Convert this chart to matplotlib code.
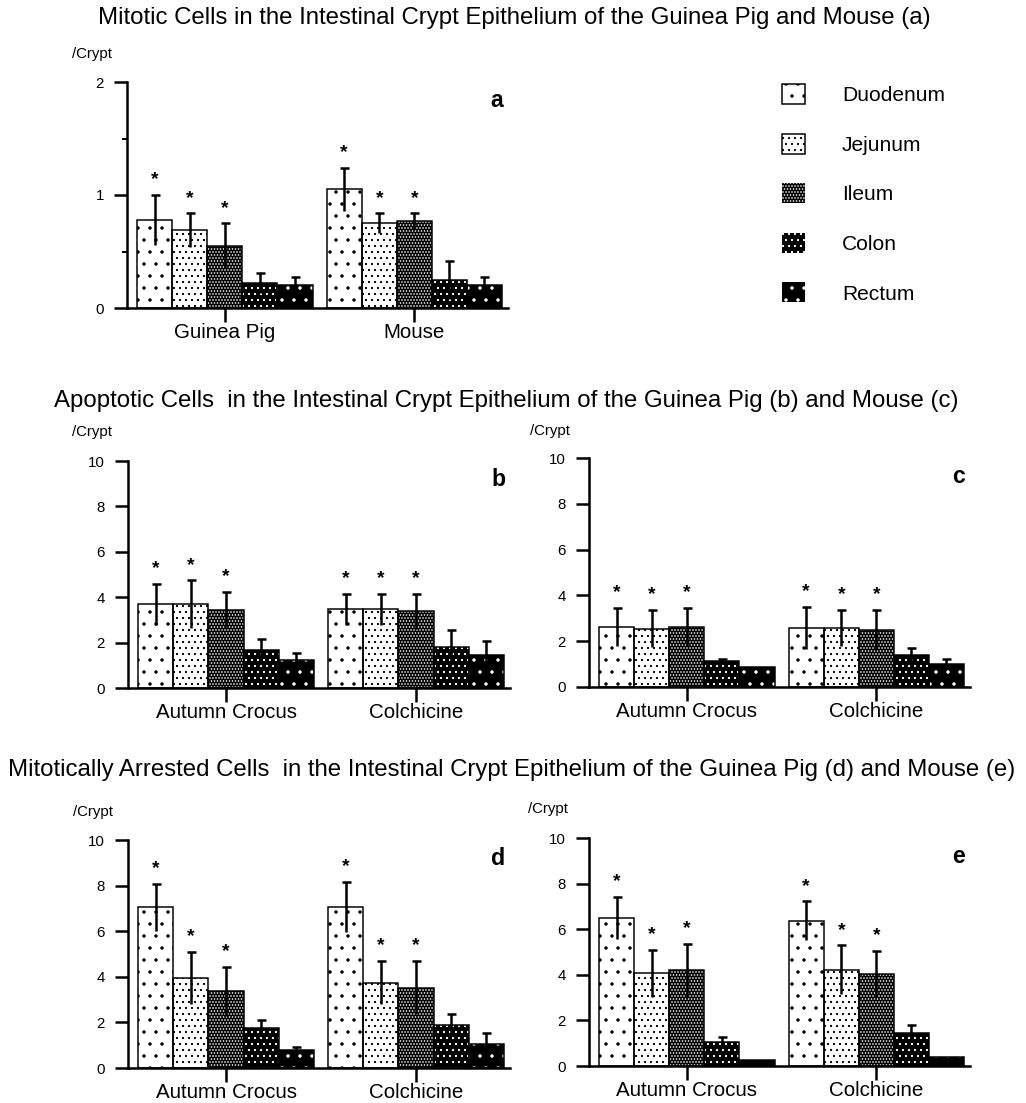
import matplotlib
matplotlib.use("Agg")
import matplotlib.pyplot as plt
from matplotlib.patches import Patch

# pixel layout, dpi 72 so 1 pt == 1 px
W, H = 1026, 1103

plt.rcParams["font.family"] = ["Liberation Sans", "DejaVu Sans"]
plt.rcParams["hatch.linewidth"] = 1.0

regions = ["Duodenum", "Jejunum", "Ileum", "Colon", "Rectum"]
species = ["Guinea Pig", "Mouse"]
treatments = ["Autumn Crocus", "Colchicine"]

# (a) mitotic cells per crypt
a_mean = [[0.78, 0.69, 0.55, 0.22, 0.20], [1.05, 0.75, 0.77, 0.25, 0.20]]
a_err = [[0.22, 0.15, 0.20, 0.09, 0.07], [0.19, 0.09, 0.07, 0.17, 0.07]]

# (b) apoptotic, guinea pig
b_mean = [[3.69, 3.69, 3.45, 1.69, 1.25], [3.47, 3.47, 3.38, 1.81, 1.47]]
b_err = [[0.91, 1.05, 0.78, 0.45, 0.29], [0.69, 0.69, 0.78, 0.73, 0.60]]

# (c) apoptotic, mouse
c_mean = [[2.63, 2.55, 2.63, 1.14, 0.88], [2.57, 2.57, 2.48, 1.39, 1.02]]
c_err = [[0.84, 0.81, 0.84, 0.09, 0.0], [0.93, 0.79, 0.88, 0.32, 0.22]]

# (d) mitotically arrested, guinea pig
d_mean = [[7.04, 3.95, 3.37, 1.76, 0.81], [7.07, 3.75, 3.53, 1.90, 1.07]]
d_err = [[1.04, 1.15, 1.07, 0.33, 0.11], [1.10, 0.94, 1.16, 0.46, 0.47]]

# (e) mitotically arrested, mouse
e_mean = [[6.49, 4.07, 4.19, 1.04, 0.26], [6.37, 4.22, 4.03, 1.43, 0.41]]
e_err = [[0.92, 1.03, 1.17, 0.25, 0.0], [0.85, 1.07, 1.02, 0.36, 0.0]]

# significant (*) on duodenum, jejunum, ileum
starred = [True, True, True, False, False]

# face colour, hatch colour, hatch per region
styles = [
    ("white", "black", "."),
    ("white", "black", ".."),
    ("black", "white", "...."),
    ("black", "white", ".."),
    ("black", "white", "."),
]

GROUP_GAP = 5.4


def px_rect(left, right, top, bottom):
    return [left / W, 1 - bottom / H, (right - left) / W, (bottom - top) / H]


def draw_panel(ax, groups, means, errs, ymax, ystep, letter, minor=None):
    for g, (gm, ge) in enumerate(zip(means, errs)):
        for i, (m, e) in enumerate(zip(gm, ge)):
            x = g * GROUP_GAP + i
            face, hcol, hatch = styles[i]
            ax.bar(x, m, width=1, color=face, edgecolor=hcol, hatch=hatch,
                   linewidth=0, zorder=2)
            ax.bar(x, m, width=1, fill=False, edgecolor="black",
                   linewidth=1.5, zorder=3)
            if e > 0:
                ax.vlines(x, m - e, m + e, color="black", linewidth=2.5,
                          zorder=4)
                ax.plot(x, m + e, marker="_", ms=9, mew=2.5, color="black",
                        zorder=4)
            if starred[i]:
                ax.annotate("*", (x, m + e), xytext=(0, 15),
                            textcoords="offset points", ha="center",
                            va="center", fontsize=19, fontweight="bold")

    ax.set_xlim(-0.786, 10.07)
    ax.set_ylim(0, ymax)
    for s in ["top", "right"]:
        ax.spines[s].set_visible(False)
    for s in ["left", "bottom"]:
        ax.spines[s].set_linewidth(2.5)

    ticks = [k * ystep for k in range(int(round(ymax / ystep)) + 1)]
    ax.set_yticks(ticks)
    ax.set_yticklabels([f"{t:g}" for t in ticks])
    if minor:
        ax.set_yticks(minor, minor=True)
        ax.tick_params(axis="y", which="minor", length=5, width=2)
    ax.tick_params(axis="y", which="major", direction="out", length=13,
                   width=2.5, labelsize=15, pad=10)

    centers = [g * GROUP_GAP + 2 for g in range(len(groups))]
    ax.set_xticks(centers)
    ax.set_xticklabels(groups)
    ax.tick_params(axis="x", direction="out", length=14, width=2.5,
                   labelsize=20.5, pad=1)

    ax.text(0.97, 0.92, letter, transform=ax.transAxes, ha="center",
            va="center", fontsize=23, fontweight="bold")


fig = plt.figure(figsize=(W / 72, H / 72), dpi=72)

ax_a = fig.add_axes(px_rect(127, 508, 82, 308))
ax_b = fig.add_axes(px_rect(128, 510, 461, 688))
ax_c = fig.add_axes(px_rect(589, 970, 458, 687))
ax_d = fig.add_axes(px_rect(128, 510, 840, 1068))
ax_e = fig.add_axes(px_rect(589, 970, 838, 1066))

draw_panel(ax_a, species, a_mean, a_err, 2, 1, "a", minor=[0.5, 1.5])
draw_panel(ax_b, treatments, b_mean, b_err, 10, 2, "b")
draw_panel(ax_c, treatments, c_mean, c_err, 10, 2, "c")
draw_panel(ax_d, treatments, d_mean, d_err, 10, 2, "d")
draw_panel(ax_e, treatments, e_mean, e_err, 10, 2, "e")

# section titles
title_kw = dict(ha="center", va="center", fontsize=24)
fig.text(514 / W, 1 - 18 / H,
         "Mitotic Cells in the Intestinal Crypt Epithelium of the Guinea Pig and Mouse (a)",
         **title_kw)
fig.text(506 / W, 1 - 401 / H,
         "Apoptotic Cells  in the Intestinal Crypt Epithelium of the Guinea Pig (b) and Mouse (c)",
         **title_kw)
fig.text(512 / W, 1 - 770 / H,
         "Mitotically Arrested Cells  in the Intestinal Crypt Epithelium of the Guinea Pig (d) and Mouse (e)",
         **title_kw)

# unit labels
for x, y in [(72, 54), (72, 432), (530, 431), (73, 812), (528, 809)]:
    fig.text(x / W, 1 - y / H, "/Crypt", ha="left", va="center", fontsize=15)

handles = []
for f, h, p in styles:
    if f == "white":
        handles.append(Patch(facecolor=f, edgecolor="black", hatch=p,
                             linewidth=1.5))
    else:
        handles.append(Patch(facecolor=f, edgecolor=h, hatch=p, linewidth=0))
fig.legend(handles, regions, loc="upper left",
           bbox_to_anchor=(782 / W, 1 - 84 / H), frameon=False, fontsize=21,
           handlelength=1.1, handleheight=1.1, labelspacing=1.35,
           handletextpad=1.75, borderpad=0, borderaxespad=0)

fig.savefig("out.png", dpi=72)
